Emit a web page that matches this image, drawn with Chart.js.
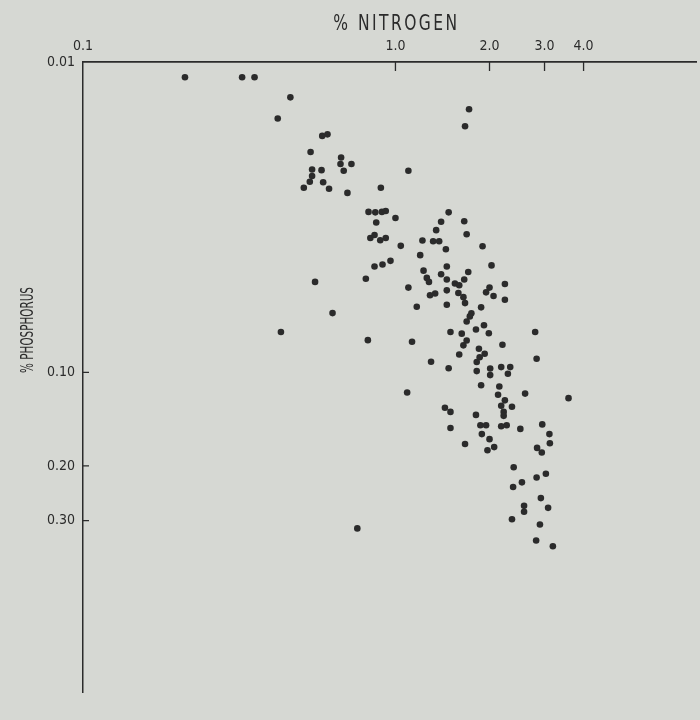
<!DOCTYPE html>
<html>
<head>
<meta charset="utf-8">
<script src="https://cdn.jsdelivr.net/npm/chart.js@4.4.1/dist/chart.umd.min.js"></script>
<style>
  body { margin: 0; background: #d6d8d3; }
  canvas { display: block; }
</style>
</head>
<body>
<canvas id="scatter" width="700" height="720"></canvas>
<script>
// % nitrogen / % phosphorus pairs
const nitrogen = [
  0.212, 0.323, 0.354, 0.461, 0.420, 0.583, 0.606, 0.535, 0.670, 0.667,
  0.723, 0.683, 0.541, 0.580, 0.541, 0.532, 0.587, 0.509, 0.613, 0.702,
  1.10, 0.898, 0.820, 0.862, 0.905, 0.931, 0.868, 1.00, 1.40, 1.72,
  1.67, 1.48, 1.66, 1.35, 0.430, 0.831, 0.857, 0.894, 0.931, 1.04,
  1.22, 1.32, 1.38, 1.20, 1.23, 1.26, 1.28, 0.857, 0.909, 0.964,
  0.804, 0.553, 1.10, 1.29, 1.34, 1.17, 0.629, 0.816, 1.13, 1.30,
  1.09, 0.755, 1.69, 1.90, 1.45, 2.03, 1.46, 1.71, 1.66, 1.40,
  1.46, 1.55, 1.60, 1.46, 1.59, 1.65, 1.67, 2.24, 2.00, 1.95,
  2.06, 2.24, 1.88, 1.46, 1.75, 1.69, 1.73, 1.92, 1.99, 1.81,
  1.50, 1.63, 1.69, 1.65, 2.20, 2.80, 1.60, 1.85, 1.86, 1.93,
  1.82, 2.83, 1.48, 1.82, 2.01, 2.01, 2.18, 2.33, 2.29, 1.88,
  2.15, 2.13, 2.60, 3.58, 1.44, 1.50, 2.24, 2.18, 2.22, 2.22,
  2.36, 1.81, 1.50, 1.87, 1.95, 2.18, 2.27, 2.51, 2.95, 3.11,
  1.89, 2.00, 1.67, 2.07, 1.97, 3.12, 2.84, 2.94, 2.39, 2.83,
  3.03, 2.54, 2.38, 2.92, 2.58, 2.58, 3.08, 2.36, 2.90, 2.82,
  3.19
];
const phosphorus = [
  0.0112, 0.0112, 0.0112, 0.0130, 0.0152, 0.0173, 0.0171, 0.0195, 0.0203, 0.0213,
  0.0213, 0.0224, 0.0222, 0.0223, 0.0233, 0.0243, 0.0244, 0.0254, 0.0256, 0.0264,
  0.0224, 0.0254, 0.0304, 0.0305, 0.0304, 0.0302, 0.0329, 0.0318, 0.0327, 0.0142,
  0.0161, 0.0305, 0.0326, 0.0348, 0.0741, 0.0369, 0.0361, 0.0375, 0.0369, 0.0391,
  0.0376, 0.0378, 0.0378, 0.0419, 0.0470, 0.0496, 0.0511, 0.0456, 0.0449, 0.0437,
  0.0499, 0.0511, 0.0533, 0.0564, 0.0557, 0.0614, 0.0644, 0.0787, 0.0796, 0.0924,
  0.116, 0.318, 0.0359, 0.0392, 0.0401, 0.0452, 0.0456, 0.0475, 0.0502, 0.0483,
  0.0502, 0.0517, 0.0524, 0.0544, 0.0555, 0.0572, 0.0598, 0.0519, 0.0533, 0.0552,
  0.0567, 0.0583, 0.0617, 0.0605, 0.0645, 0.0685, 0.0660, 0.0705, 0.0748, 0.0727,
  0.0741, 0.0750, 0.0789, 0.0818, 0.0814, 0.0741, 0.0875, 0.0839, 0.0893, 0.0871,
  0.0926, 0.0903, 0.0969, 0.0990, 0.0971, 0.102, 0.0961, 0.0961, 0.101, 0.110,
  0.111, 0.118, 0.117, 0.121, 0.130, 0.134, 0.123, 0.128, 0.134, 0.138,
  0.129, 0.137, 0.151, 0.148, 0.148, 0.149, 0.148, 0.152, 0.147, 0.158,
  0.158, 0.164, 0.170, 0.174, 0.178, 0.169, 0.175, 0.181, 0.202, 0.218,
  0.212, 0.226, 0.234, 0.254, 0.269, 0.281, 0.273, 0.297, 0.309, 0.348,
  0.363
];

const xTicks = [0.1, 1, 2, 3, 4];
const xTickLabels = ['0.1', '1.0', '2.0', '3.0', '4.0'];
const yTicks = [0.01, 0.1, 0.2, 0.3];
const yTickLabels = ['0.01', '0.10', '0.20', '0.30'];

const fontFamily = "'DejaVu Sans Condensed', 'DejaVu Sans', sans-serif";
const ink = '#2b2b2b';

// short tick marks pointing into the plot + both axis titles
const axisExtras = {
  id: 'axisExtras',
  afterDraw(chart) {
    const ctx = chart.ctx;
    const area = chart.chartArea;
    const xs = chart.scales.x;
    const ys = chart.scales.y;
    ctx.save();
    ctx.strokeStyle = ink;
    ctx.lineWidth = 1.3;
    ctx.beginPath();
    xTicks.slice(1).forEach(v => {
      const px = xs.getPixelForValue(v);
      ctx.moveTo(px, area.top);
      ctx.lineTo(px, area.top + 9);
    });
    yTicks.slice(1).forEach(v => {
      const py = ys.getPixelForValue(v);
      ctx.moveTo(area.left, py);
      ctx.lineTo(area.left + 6, py);
    });
    ctx.stroke();

    ctx.fillStyle = ink;
    ctx.textAlign = 'center';
    ctx.textBaseline = 'middle';

    // x title over the 1.0 tick: narrow letters, spaced out
    ctx.save();
    ctx.translate(xs.getPixelForValue(1) + 1, 25);
    ctx.scale(0.82, 1);
    ctx.font = '21px ' + fontFamily;
    ctx.letterSpacing = '3px';
    ctx.fillText('% NITROGEN', 0, 0);
    ctx.restore();

    // y title, condensed
    ctx.translate(29, 330);
    ctx.rotate(-Math.PI / 2);
    ctx.scale(0.68, 1);
    ctx.font = '17px ' + fontFamily;
    ctx.fillText('% PHOSPHORUS', 0, 0);
    ctx.restore();
  }
};

const ctx = document.getElementById('scatter').getContext('2d');
const chart = new Chart(ctx, {
  type: 'scatter',
  data: {
    datasets: [{
      data: nitrogen.map((n, i) => ({ x: n, y: phosphorus[i] })),
      backgroundColor: ink,
      borderColor: ink,
      borderWidth: 0,
      pointRadius: 3.3
    }]
  },
  options: {
    responsive: false,
    animation: false,
    layout: { padding: { right: 1, bottom: 28 } },
    plugins: {
      legend: { display: false },
      tooltip: { enabled: false }
    },
    scales: {
      x: {
        type: 'logarithmic',
        position: 'top',
        min: 0.1,
        max: 9.16,
        afterBuildTicks: scale => { scale.ticks = xTicks.map(v => ({ value: v })); },
        afterFit: scale => { scale.height = 62; },
        ticks: {
          padding: 7,
          maxRotation: 0,
          autoSkip: false,
          color: ink,
          font: { family: fontFamily, size: 14 },
          callback: (value, index) => xTickLabels[index]
        },
        grid: { drawOnChartArea: false, drawTicks: false },
        border: { display: true, color: ink, width: 1.8 }
      },
      y: {
        type: 'logarithmic',
        reverse: true,
        min: 0.01,
        max: 1.07,
        afterBuildTicks: scale => { scale.ticks = yTicks.map(v => ({ value: v })); },
        afterFit: scale => { scale.width = 83; },
        ticks: {
          padding: 8,
          autoSkip: false,
          color: ink,
          font: { family: fontFamily, size: 14 },
          callback: (value, index) => yTickLabels[index]
        },
        grid: { drawOnChartArea: false, drawTicks: false },
        border: { display: true, color: ink, width: 1.5 }
      }
    }
  },
  plugins: [axisExtras]
});
</script>
</body>
</html>
